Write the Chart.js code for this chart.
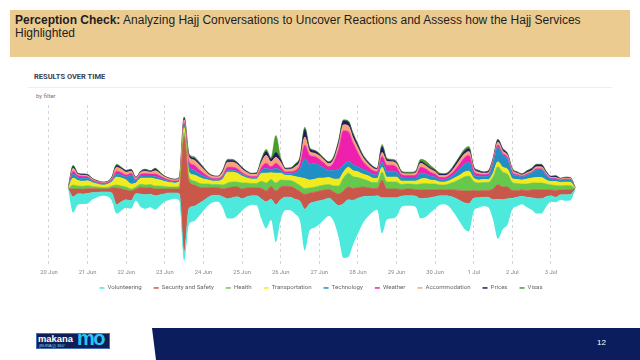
<!DOCTYPE html>
<html>
<head>
<meta charset="utf-8">
<script src="https://cdn.jsdelivr.net/npm/chart.js@4.4.0/dist/chart.umd.min.js"></script>
<style>
  body { margin: 0; width: 640px; height: 360px; overflow: hidden; background: #fff; position: relative; font-family: "Liberation Sans", Arial, sans-serif; }
  #hdr { position: absolute; left: 10px; top: 10px; width: 620px; height: 47px; background: #eccb91; }
  #hdr p { margin: 0; padding: 4px 0 0 5px; font-size: 12px; line-height: 13px; color: #1e1e1e; }
  #sub { position: absolute; left: 34px; top: 72px; font: bold 7.5px Roboto, sans-serif; color: #39414d; }
  #rule { position: absolute; left: 28px; top: 87px; width: 584px; height: 1px; background: #efefef; }
  #by { position: absolute; left: 36px; top: 92px; font: 6px Roboto, sans-serif; color: #777; }
  #wrap { position: absolute; left: 0; top: 100px; width: 640px; height: 206px; }
  #band { position: absolute; left: 152px; top: 328px; width: 488px; height: 32px; background: #0b1d5c; clip-path: polygon(0 0, 100% 0, 100% 100%, 4px 100%); }
  #pg { position: absolute; left: 597px; top: 338px; font-size: 8px; color: #fff; }
  #logo { position: absolute; left: 36px; top: 333px; width: 74px; height: 16px; background: #0f1f56; border: 1px solid #4a6fb0; box-sizing: border-box; overflow: hidden; }
  #logo .m { position: absolute; left: 1px; top: -1px; font: bold 9.4px "Liberation Sans", Arial, sans-serif; color: #fff; }
  #logo .b { position: absolute; left: 2px; top: 8.5px; font: 4px "Liberation Sans", Arial, sans-serif; color: #7fd4f5; }
  #logo .mo { position: absolute; left: 40px; top: -7px; font: bold 20px "Liberation Sans", Arial, sans-serif; color: #26c6f2; letter-spacing: -1.5px; }
</style>
</head>
<body>
<div id="hdr"><p><b>Perception Check:</b> Analyzing Hajj Conversations to Uncover Reactions and Assess how the Hajj Services Highlighted</p></div>
<div id="sub">RESULTS OVER TIME</div>
<div id="rule"></div>
<div id="by">by filter</div>
<div id="wrap"><canvas id="chart"></canvas></div>
<div id="logo"><span class="m">makana</span><span class="b">(BURAQ) 360°</span><span class="mo">mo</span></div>
<div id="band"></div>
<div id="pg">12</div>

<script>
// hours counted from 20 Jun 00:00, one reading every 3 hours
const hours = [12,15,18,21,24,27,30,33,36,39,
  42,45,48,51,54,57,60,63,66,69,
  72,75,78,81,84,87,90,93,96,99,
  102,105,108,111,114,117,120,123,126,129,
  132,135,138,141,144,147,150,153,156,159,
  162,165,168,171,174,177,180,183,186,189,
  192,195,198,201,204,207,210,213,216,219,
  222,225,228,231,234,237,240,243,246,249,
  252,255,258,261,264,267,270,273,276,279,
  282,285,288,291,294,297,300,303,306,309,
  312,315,318,321,324,327];

const dayLabels = ["20 Jun","21 Jun","22 Jun","23 Jun","24 Jun","25 Jun","26 Jun","27 Jun","28 Jun","29 Jun","30 Jun","1 Jul","2 Jul","3 Jul"];

const volunteering = [1,16,11,10,10,7,5,4,4.5,8,
  9,9,8,8,7,13,14,13,14,11,
  8,7,6,7,8,16,15,13,10,8,
  7,6.5,11,20,21,19,12,10,9,9.5,
  20,27,21,38,20,13,13,15,20,42,
  27,26,24,20,18,20,32,55,58,45,
  36,27,21,16,14,36,22,21,19,11,
  10,10,11,20,19,15,12,9,8.5,11,
  16,21,26,28,13,10,9,10,20,40,
  30,26,11,9,8,10,12,15,15,10,
  6,5,5,6,6,1];
const security = [0.5,8,5,5,5,4,3.5,3,3,5,
  17,13,10,10,5,7,7,7,7,6,
  5,4,4,5,118,28,22,17,13,10,
  8,8,8,11,11,10,10,9,8,8,
  11,11,13,14,13,11,11,11,10,15,
  11,10,10,10,9,10,12,13,13,12,
  11,10,9,8,7.5,18,9,9,9,7,
  7,7,7,9,9,8,7,6,6,7,
  8,10,12,13,8,7,7,7,11,15,
  13,12,8,7,6.5,7,8,9,9,7,
  6,7,5,5,5,0.6];
const health = [0.3,4,3,3,3,2,2,1.5,1.5,2,
  3,3,3,2,2,3,3,3,3,3,
  2.5,2,2,2.5,4,4,4,4,4,3.5,
  3,3,4,5,5,5,6,5,4.5,4.5,
  7,8,7,8,7,6,6,6,6,6,
  5,5,5,5,5,6,8,13,14,12,
  10,8,7,6,6,8,7,7,7,5,
  5,5,5,6,6,6,6,5,5,6,
  8,11,14,15,9,8,8,8,12,18,
  15,13,8,7,6,6.5,7,7,7,6,
  5,5,4,4.5,4,0.5];
const transportation = [0.3,7,5.5,5,5,4,3,2.5,3,4,
  8,8,7,5,4,6,7,6.5,7,6,
  5,4.5,4,4.5,5,5,6,6,5,4,
  3.5,3.5,6,11,10,9,7,5,4.5,4.5,
  8,10,7,10,7,5,5,6,8,10,
  8,8,8,7,7,7,7,6,6,6,
  6,5,5,4.5,4,5,5,5,5,3.5,
  3,3,3.5,5,5,4,3.5,3,3,3,
  4,4,5,5,3.5,3,3,3,4,5,
  5,5,4,4,4,5,5,5.5,5.5,4,
  3.5,4,3.5,3.5,3.5,0.4];
const technology = [0.2,4,3,3,2.5,1.5,1,1,1,1.5,
  3,3,3,9,2,2,2,2,2.5,2,
  1.5,1.2,1,1.3,2,5,5,4,3,2,
  1.5,1.5,2,2,2,2,2,1.5,1.5,1.5,
  3,5,3,5,3,2,2.5,4,9,20,
  16,16,13,10,7,9,10,7,6,6,
  5,5,4.5,4,3.5,5,6,6,5,3.5,
  3,3,3,6,5,4,3.5,2.5,2.5,3,
  4,6,8,9,4,3.5,3,3.5,9,15,
  12,10,5,4,3,4,5,8,8,5,
  2.5,2.5,2,2.5,2.5,0.2];
const weather = [0.1,3,2,2,1.5,1,1,0.8,0.8,1.2,
  3,2.5,2,2,1.5,2,2.5,2,2.5,2,
  1.5,1.2,1,1.2,3,5,5,4,3,1.5,
  1,1,1.5,3,3,2.5,1.5,1.2,1,1,
  3,5,3,5,3,1.5,1.5,2,4,14,
  9,7,6,5,4,8,20,35,30,22,
  14,8,5,4,3.5,6,6,6,5,3,
  2.5,2.5,3,6,5,4,3,2,2,2.5,
  3.5,5,6,7,3,2.5,2,2,2,2,
  2,2,1.5,1,1,1,1,1,1,0.8,
  0.5,0.5,0.5,0.5,0.5,0.1];
const accommodation = [0.1,3,1,1,1,1,0.7,0.6,0.6,1,
  4,3.5,3,2,1.5,2,2.5,2,3.5,2.5,
  1.5,1.3,1.2,1.5,3,5,5,5,4,2.5,
  2,1.8,3.5,5,5,4.5,3.5,3,2.3,2.5,
  5,8,5,6,5,2.5,2.5,4,4,8,
  4,3.5,3.5,3,3,3,5,6,6,5,
  5,4,3,2.5,2,4,4,3.5,3.5,2,
  2,2,2.5,4,3,3,2.5,2,2,2,
  3,4,4,4,2.5,2,1.5,1.5,2,3,
  2.5,2,2,1.5,1.2,1.5,1.5,2,2,1.5,
  1,1,1,1,1,0.1];
const prices = [0.1,2,1,1,1,0.5,0.5,0.4,0.4,0.8,
  2,1.5,1.5,1.5,0.7,1,1.5,1,2,1,
  0.7,0.5,0.5,0.7,2,2,2,2,1.5,1,
  0.7,0.5,1.5,2,2,1.5,1.5,1,0.8,1,
  2.5,4,3,5,3,1,1,2,3,8,
  3,2.5,2,1.5,1.5,2,3,4,4,4,
  3,2,1.5,1.5,1,6,2,1.5,1.5,1,
  0.7,0.7,1,2,1.5,1.5,1.5,1.5,1.5,1.5,
  2.5,3,3,3,1.5,1.5,1,1.5,1.5,2,
  2,1.5,1,1,0.8,1.5,2,2,2,1.2,
  1,1.5,0.5,0.7,0.5,0.1];
const visas = [0,1,0.5,0.5,0.5,0.3,0.3,0.2,0.2,0.5,
  1,0.5,0.5,0.5,0.3,0.5,0.5,0.5,0.5,0.5,
  0.3,0.3,0.3,0.3,1,1.5,1.5,1,0.5,0.5,
  0.3,0.2,0.5,1,1,0.5,0.5,0.3,0.3,0.4,
  1,2,1,17,1,0.5,0.5,1,1,2,
  1,0.5,0.5,0.5,0.5,1,1,1,1,1,
  1,1,1,0.5,0.5,2,1,1,1,1,
  0.8,0.8,1,2,3.5,2.5,1,1,0.5,1,
  1,1,2,2,0.5,0.5,0.5,0.5,0.5,1,
  0.5,0.5,0.5,0.5,0.5,0.5,0.5,0.5,0.5,0.5,
  0.5,0.5,0.3,0.3,0.3,0];

const seriesNames = ["Volunteering","Security and Safety","Health","Transportation","Technology","Weather","Accommodation","Prices","Visas"];
const seriesData = [volunteering, security, health, transportation, technology, weather, accommodation, prices, visas];
const seriesColors = ["#4de9dc","#c9584b","#66c94d","#f3ea1e","#1f8fc6","#ee21ae","#f7a27c","#1c1d5c","#4a9b2b"];

// streamgraph: silhouette offset, layers stacked from -total/2
const totals = hours.map((h, i) => seriesData.reduce((s, arr) => s + arr[i], 0));
let running = totals.map(t => -t / 2);

const datasets = [{
  label: "",
  data: hours.map((h, i) => ({ x: h, y: running[i] })),
  borderWidth: 0,
  pointRadius: 0,
  fill: false,
  clip: false,
  cubicInterpolationMode: "monotone"
}];

seriesData.forEach((arr, k) => {
  running = running.map((v, i) => v + arr[i]);
  datasets.push({
    label: seriesNames[k],
    data: hours.map((h, i) => ({ x: h, y: running[i] })),
    backgroundColor: seriesColors[k],
    borderColor: seriesColors[k],
    borderWidth: 0.6,
    pointRadius: 0,
    fill: "-1",
    clip: false,
    cubicInterpolationMode: "monotone"
  });
});

// pull the legend row a little closer to the date labels
const legendNudge = {
  id: "legendNudge",
  afterLayout: chart => { chart.legend.top -= 5; chart.legend.bottom -= 5; }
};

new Chart(document.getElementById("chart"), {
  type: "line",
  data: { datasets },
  plugins: [legendNudge],
  options: {
    responsive: true,
    maintainAspectRatio: false,
    animation: false,
    layout: { padding: { left: 36, right: 34, top: 5, bottom: 0 } },
    plugins: {
      tooltip: { enabled: false },
      legend: {
        position: "bottom",
        labels: {
          color: "#666",
          font: { family: "Roboto", size: 6.1 },
          usePointStyle: true,
          pointStyleWidth: 5,
          boxHeight: 5,
          padding: 12,
          generateLabels: chart => chart.data.datasets
            .map((d, i) => ({
              text: d.label,
              fillStyle: d.backgroundColor,
              strokeStyle: d.backgroundColor,
              fontColor: "#666",
              lineWidth: 1.5,
              pointStyle: "line",
              hidden: false,
              datasetIndex: i
            }))
            .filter(l => l.text)
        }
      }
    },
    scales: {
      x: {
        type: "linear",
        min: -8.08,
        max: 346.2,
        afterBuildTicks: scale => { scale.ticks = dayLabels.map((d, i) => ({ value: i * 24 })); },
        ticks: {
          color: "#888",
          font: { family: "Roboto", size: 5.8 },
          padding: 2,
          maxRotation: 0,
          autoSkip: false,
          callback: v => dayLabels[v / 24]
        },
        grid: { color: "#d6d6d6", lineWidth: 1, drawTicks: false, borderDash: [3, 3] },
        border: { display: false, dash: [3, 3] }
      },
      y: {
        display: false,
        min: -79,
        max: 85
      }
    }
  }
});
</script>
</body>
</html>
